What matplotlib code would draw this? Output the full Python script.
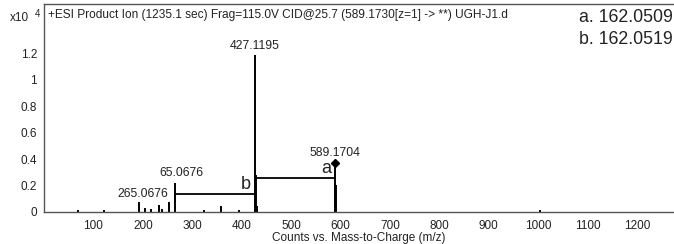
import matplotlib
matplotlib.use("Agg")
import matplotlib.pyplot as plt

plt.rcParams['font.family'] = ['Liberation Sans', 'DejaVu Sans']

# --- Data (intensity in units of 10^4 counts) ---
mz = [68, 121, 192, 204, 216, 232, 238, 252, 265.0676, 323, 358, 394,
      427.1195, 428.1, 430.1, 589.1704, 590.2, 1004]
intensity = [0.012, 0.012, 0.075, 0.03, 0.02, 0.05, 0.022, 0.07, 0.22, 0.015, 0.045, 0.015,
             1.19, 0.28, 0.04, 0.37, 0.2, 0.012]

# neutral-loss brackets: (from, to, level, letter)
bracket_from = [427.1195, 265.0676]
bracket_to = [589.1704, 427.1195]
bracket_level = [0.256, 0.134]
bracket_letter = ["a", "b"]

loss_text = ["a. 162.0509", "b. 162.0519"]

title = "+ESI Product Ion (1235.1 sec) Frag=115.0V CID@25.7 (589.1730[z=1] -> **) UGH-J1.d"
xticks = [100, 200, 300, 400, 500, 600, 700, 800, 900, 1000, 1100, 1200]
yticks = [0, 0.2, 0.4, 0.6, 0.8, 1.0, 1.2]
ytick_labels = ["0", "0.2", "0.4", "0.6", "0.8", "1", "1.2"]

TXT = "#222222"

fig = plt.figure(figsize=(6.74, 2.44), dpi=100)
ax = fig.add_axes([0.0653, 0.1324, 0.9347, 0.8512])

ax.vlines(mz, 0, intensity, color="black", lw=1.4)

# precursor marker
ax.plot([589.1704], [0.37], marker="D", ms=4, color="black", zorder=3)

# peak labels
ax.text(427.1195, 1.215, "427.1195", ha="center", va="bottom", fontsize=8.8, color=TXT)
ax.text(589.1704, 0.40, "589.1704", ha="center", va="bottom", fontsize=8.8, color=TXT)
ax.text(277, 0.245, "65.0676", ha="center", va="bottom", fontsize=8.8, color=TXT)
ax.text(252, 0.085, "265.0676", ha="right", va="bottom", fontsize=8.8, color=TXT)

# brackets
for x0, x1, lev, let in zip(bracket_from, bracket_to, bracket_level, bracket_letter):
    ax.hlines(lev, x0, x1, color="black", lw=1.3)
    ax.text(x1 - 8, lev + 0.01, let, ha="right", va="bottom", fontsize=13, color=TXT)

ax.set_xlim(0, 1275)
ax.set_ylim(0, 1.577)
ax.set_xticks(xticks)
ax.set_yticks(yticks)
ax.set_yticklabels(ytick_labels)
ax.tick_params(length=0, labelsize=8.5, labelcolor=TXT)
ax.tick_params(axis="x", pad=6)
ax.tick_params(axis="y", pad=5)
ax.set_xlabel("Counts vs. Mass-to-Charge (m/z)", fontsize=8.5, color=TXT, labelpad=0)

for s in ["left", "bottom", "top"]:
    ax.spines[s].set_color("#555555")
    ax.spines[s].set_linewidth(1.0)
ax.spines["right"].set_visible(False)

ax.text(0.006, 0.975, title, transform=ax.transAxes, ha="left", va="top", fontsize=8.6, color=TXT)

fig.text(10 / 674, 1 - 18 / 244, "x10", ha="left", va="center", fontsize=8.5, color=TXT)
fig.text(35 / 674, 1 - 14 / 244, "4", ha="left", va="center", fontsize=7, color=TXT)

fig.text(579 / 674, 1 - 17 / 244, loss_text[0], ha="left", va="center", fontsize=12.8, color=TXT)
fig.text(579 / 674, 1 - 40 / 244, loss_text[1], ha="left", va="center", fontsize=12.8, color=TXT)

fig.savefig("out.png", dpi=100)
